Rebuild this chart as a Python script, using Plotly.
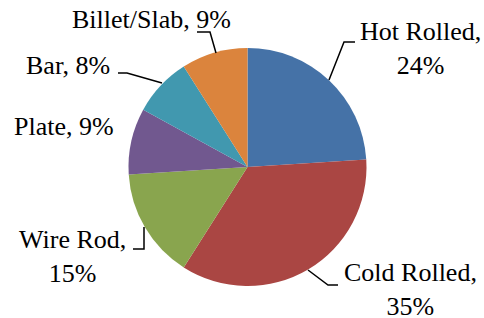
import plotly.graph_objects as go

categories = ["Hot Rolled", "Cold Rolled", "Wire Rod", "Plate", "Bar", "Billet/Slab"]
values = [24, 35, 15, 9, 8, 9]
colors = ["#4572A7", "#AA4643", "#89A54E", "#71588F", "#4198AF", "#DB843D"]
label_text = ["Hot Rolled,<br>24%", "Cold Rolled,<br>35%", "Wire Rod,<br>15%",
              "Plate, 9%", "Bar, 8%", "Billet/Slab, 9%"]

W, H = 484, 318

def px(x):
    return x / W

def py(y):
    return 1 - y / H

fig = go.Figure(go.Pie(
    labels=categories, values=values, sort=False, direction="clockwise",
    rotation=0, textinfo="none", hoverinfo="label+percent",
    marker=dict(colors=colors, line=dict(width=0)),
    domain=dict(x=[px(128), px(367)], y=[py(286), py(48)]),
    showlegend=False,
))

# label positions (pixel centers) and leader lines
label_pos = [(420, 49), (410, 289), (72, 256), (64, 126), (68, 66), (151, 20)]
leaders = [
    [(355, 42), (344, 42), (329, 80)],
    [(338, 285), (328, 285), (308, 270)],
    [(133, 249), (144, 249), (144, 227)],
    None,
    [(118, 73), (127, 73), (162, 83)],
    [(197, 32), (210, 32), (216, 53)],
]

annotations = []
shapes = []
for txt, (x, y), ld in zip(label_text, label_pos, leaders):
    annotations.append(dict(
        text=txt, x=px(x), y=py(y), xref="paper", yref="paper",
        xanchor="center", yanchor="middle", align="center", showarrow=False,
        font=dict(family="Liberation Serif", size=26, color="black"),
    ))
    if ld:
        path = "M " + " L ".join(f"{px(a)},{py(b)}" for a, b in ld)
        shapes.append(dict(type="path", path=path, xref="paper", yref="paper",
                           line=dict(color="black", width=1.5)))

fig.update_layout(
    width=W, height=H, margin=dict(l=0, r=0, t=0, b=0),
    paper_bgcolor="white", plot_bgcolor="white",
    annotations=annotations, shapes=shapes,
)

fig.write_html("out.html", config={"displayModeBar": False},
               post_script="document.body.style.margin='0';")
